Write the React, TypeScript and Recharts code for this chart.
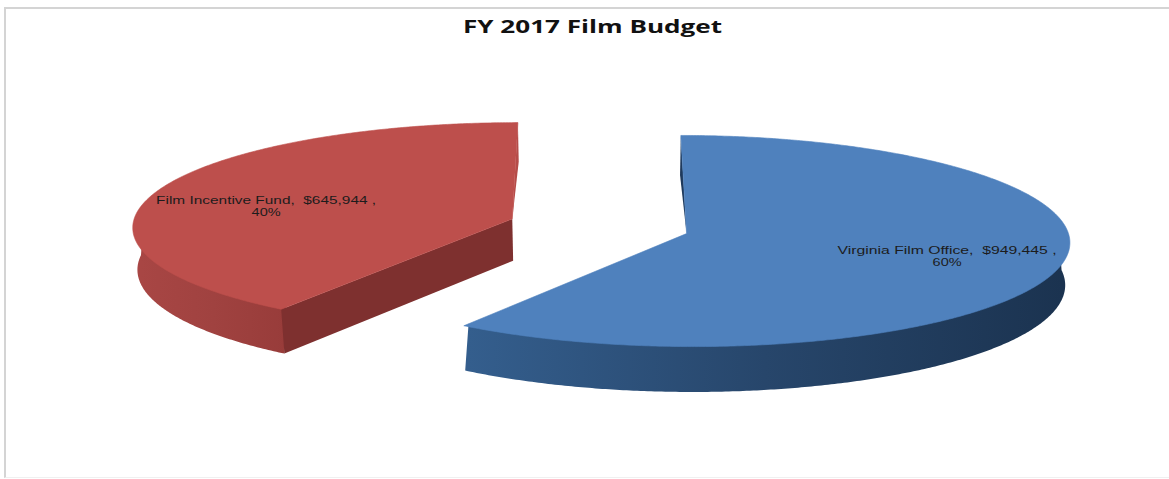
import React from "react";
import { PieChart, Pie } from "recharts";

// FY 2017 film budget split
const sliceNames = ["Virginia Film Office", "Film Incentive Fund"];
const sliceAmounts = [949445, 645944];
const topColors = ["#4f81bd", "#bd4f4c"];
const rimStops = [
  ["#345e8d", "#27466b", "#1b3350"],
  ["#a84644", "#a04240", "#983c3a"],
];
const faceColors = ["#2a4c75", "#7e302f"];
const stripColors = ["#1f3a5c", "#b54c49"];
const labelNudgeX = [0, 2];
const labelNudgeY = [0, 8];
const labelWidths = [219, 220];

const budgetRows = sliceNames.map((name, i) => ({ name, value: sliceAmounts[i] }));

// View of the tilted disc
const TILT = 104 / 380;
const PERSPECTIVE = 0.07;
const EXPLODE = 0.24;
const DEPTH = 42;
const CONVERGE = 0.01;
const RAD = Math.PI / 180;

type Pt = [number, number];

// Projects a point of the unit disc, shifted along the slice's mid direction, on to the page.
function makeProjector(cx: number, cy: number, radius: number, midAngle: number) {
  const ox = EXPLODE * Math.cos(midAngle * RAD);
  const oy = EXPLODE * Math.sin(midAngle * RAD);
  const top = (r: number, angle: number): Pt => {
    const u = ox + r * Math.cos(angle * RAD);
    const v = oy + r * Math.sin(angle * RAD);
    const s = 1 / (1 + PERSPECTIVE * v);
    return [cx + radius * u * s, cy - radius * TILT * v * s];
  };
  const bottom = (r: number, angle: number): Pt => {
    const [x, y] = top(r, angle);
    const v = oy + r * Math.sin(angle * RAD);
    const s = 1 / (1 + PERSPECTIVE * v);
    return [x + (cx - x) * CONVERGE, y + DEPTH * s];
  };
  return { top, bottom };
}

const toPath = (pts: Pt[]) =>
  "M" + pts.map(([x, y]) => `${x.toFixed(2)} ${y.toFixed(2)}`).join("L") + "Z";

function sweep(from: number, to: number): number[] {
  const steps = Math.max(2, Math.ceil(Math.abs(from - to) * 2));
  return Array.from({ length: steps + 1 }, (_, i) => from + ((to - from) * i) / steps);
}

function Slice3D(props: any) {
  const { cx, cy, outerRadius, startAngle, endAngle, midAngle, index } = props;
  const { top, bottom } = makeProjector(cx, cy, outerRadius, midAngle);
  const hi = Math.max(startAngle, endAngle);
  const lo = Math.min(startAngle, endAngle);

  // The rim shows only on the near half of the disc
  const rimFrom = Math.min(hi, 3);
  const rimTo = Math.max(lo, -183);
  const rimAngles = sweep(rimFrom, rimTo);
  const rimUpper = rimAngles.map((a) => top(0.98, a));
  const rimLower = rimAngles.map((a) => bottom(1, a)).reverse();
  const rimXs = rimUpper.map((p) => p[0]);
  const gradId = `rim-${index}`;

  const backAngle = hi > 0 && Math.sin(hi * RAD) > 0.5 ? hi : lo;
  const strip = toPath([top(0, backAngle), top(1, backAngle), bottom(1, backAngle)]);
  const showFace = Math.sin(startAngle * RAD) < 0;
  const face = toPath([
    top(0, startAngle),
    top(1, startAngle),
    bottom(1, startAngle),
    bottom(0, startAngle),
  ]);
  const upper = toPath([top(0, 0), ...sweep(startAngle, endAngle).map((a) => top(1, a))]);

  return (
    <g>
      <defs>
        <linearGradient
          id={gradId}
          gradientUnits="userSpaceOnUse"
          x1={Math.min(...rimXs)}
          x2={Math.max(...rimXs)}
          y1={0}
          y2={0}
        >
          <stop offset="0" stopColor={rimStops[index][0]} />
          <stop offset="0.5" stopColor={rimStops[index][1]} />
          <stop offset="1" stopColor={rimStops[index][2]} />
        </linearGradient>
      </defs>
      <path d={strip} fill={stripColors[index]} />
      <path d={toPath([...rimUpper, ...rimLower])} fill={`url(#${gradId})`} />
      {showFace && <path d={face} fill={faceColors[index]} />}
      <path d={upper} fill={topColors[index]} stroke={topColors[index]} strokeWidth={0.6} />
    </g>
  );
}

const money = (n: number) => "$" + n.toLocaleString("en-US");

function SliceLabel(props: any) {
  const { cx, cy, outerRadius, midAngle, name, value, percent, index } = props;
  const { top } = makeProjector(cx, cy, outerRadius, midAngle);
  const [px, py] = top(0.7, midAngle);
  const x = px + labelNudgeX[index];
  const y = py + labelNudgeY[index];
  const textStyle = {
    fontFamily: "'Liberation Sans', sans-serif",
    fontSize: 10.8,
    fill: "#1c1c1c",
    whiteSpace: "pre" as const,
  };
  return (
    <g>
      <text
        x={x}
        y={y - 2}
        textAnchor="middle"
        textLength={labelWidths[index]}
        lengthAdjust="spacingAndGlyphs"
        style={textStyle}
      >
        {`${name},  ${money(value)} ,`}
      </text>
      <text
        x={x}
        y={y + 10.4}
        textAnchor="middle"
        textLength={29}
        lengthAdjust="spacingAndGlyphs"
        style={textStyle}
      >
        {`${Math.round(percent * 100)}%`}
      </text>
    </g>
  );
}

export default function App() {
  return (
    <div
      style={{
        position: "absolute",
        left: 0,
        top: 0,
        width: 1169,
        height: 479,
        background: "#ffffff",
        overflow: "hidden",
      }}
    >
      <div
        style={{
          position: "absolute",
          left: 4,
          top: 7,
          width: 1165,
          height: 471,
          borderLeft: "2px solid #d4d4d4",
          borderTop: "2px solid #d4d4d4",
          borderBottom: "1px solid #f0f0f0",
          boxSizing: "border-box",
        }}
      />
      <div style={{ position: "absolute", left: 0, top: 0 }}>
        <PieChart width={1169} height={479} margin={{ top: 0, right: 0, bottom: 0, left: 0 }}>
          <text
            x={592.5}
            y={33}
            textAnchor="middle"
            textLength={259}
            lengthAdjust="spacingAndGlyphs"
            style={{
              fontFamily: "'Open Sans', sans-serif",
              fontWeight: 700,
              fontSize: 17.5,
              fill: "#111111",
            }}
          >
            FY 2017 Film Budget
          </text>
          <Pie
            data={budgetRows}
            dataKey="value"
            nameKey="name"
            cx={599}
            cy={226.2}
            innerRadius={0}
            outerRadius={380}
            startAngle={90}
            endAngle={-270}
            stroke="none"
            shape={Slice3D}
            label={SliceLabel}
            labelLine={false}
            isAnimationActive={false}
          />
        </PieChart>
      </div>
    </div>
  );
}
